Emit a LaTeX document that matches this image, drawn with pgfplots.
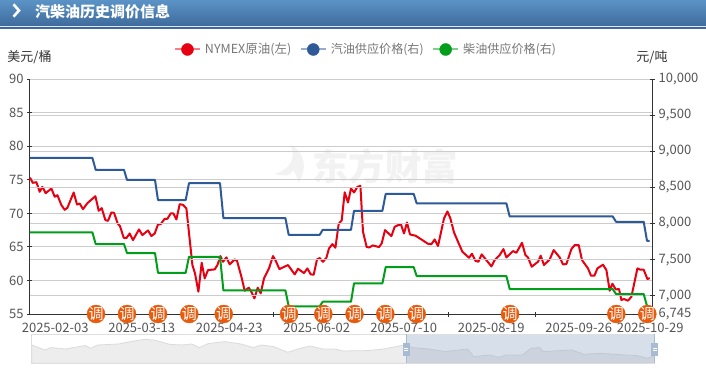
\documentclass[border=0pt]{standalone}
\usepackage{fontspec}
\setmainfont{Noto Sans CJK SC}
\usepackage{pgfplots}
\pgfplotsset{compat=1.18}
\definecolor{cred}{HTML}{E60012}
\definecolor{cblue}{HTML}{2F5A98}
\definecolor{cgreen}{HTML}{009E1A}
\definecolor{corange}{HTML}{E85A0C}
\definecolor{cgrid}{HTML}{CCCCCC}
\definecolor{caxis}{HTML}{333333}
\definecolor{ctick}{HTML}{555555}
\definecolor{hdtop}{HTML}{5B93C6}
\definecolor{hdbot}{HTML}{3E6A9B}
\definecolor{csel}{HTML}{8FA5C7}
\definecolor{chandle}{HTML}{A9BAD3}
\definecolor{cleg}{HTML}{777777}
\pgfplotsset{
  mainaxis/.style={
    at={(29.7pt,53pt)},anchor=south west,scale only axis,width=623pt,height=234.7pt,
    xmin=0,xmax=623,clip=false,
    /pgf/number format/assume math mode=true,
    tick style={caxis,line width=1pt},
    major tick length=5pt,
    axis line style={caxis,line width=1pt},
    ymajorgrids,grid style={cgrid,line width=1pt},
    ticklabel style={font=\fontsize{13}{13}\selectfont,text=ctick},
  },
  legimg/.style={legend image code/.code={
    \path[draw=#1!50!white,line width=2pt](0pt,0pt)--(25pt,0pt);
    \fill[#1](12.5pt,0pt)circle(6pt);}},
}
\begin{document}
\begin{tikzpicture}[x=1pt,y=1pt]
\useasboundingbox (0,0) rectangle (706,367);
\fill[white] (0,0) rectangle (706,367);
% header
\shade[top color=hdtop,bottom color=hdbot] (0,340.5) rectangle (706,367);
\fill[white!80!hdtop] (0,339.5) rectangle (706,340.5);
\fill[hdbot] (0,338) rectangle (706,339.5);
\draw[white,line width=2.6pt] (13.5,362.7)--(19,356.5)--(13.5,350.3);
\node[anchor=west,inner sep=0,text=white,font=\fontsize{15}{15}\selectfont\bfseries] at (35,355.7) {汽柴油历史调价信息};
% unit labels
\node[anchor=center,inner sep=0,text=caxis,font=\fontsize{13}{13}\selectfont] at (29.5,309.5) {美元/桶};
\node[anchor=center,inner sep=0,text=caxis,font=\fontsize{13}{13}\selectfont] at (652,309.5) {元/吨};
% watermark
\node[anchor=west,inner sep=0,text=black!5,font=\fontsize{36.5}{36.5}\selectfont\bfseries] at (312,201) {东方财富};
\fill[black!5] (298,184) .. controls (308,198) and (305,214) .. (291,222) .. controls (296,208) and (290,198) .. (275,193) .. controls (286,190) and (292,192) .. (293,197) .. controls (296,193) and (298,189) .. (298,184) -- cycle;
% left axis
\begin{axis}[mainaxis,
  ymin=55,ymax=90,ytick={55,60,...,90},
  axis x line=bottom,axis y line=left,
  axis line style={-},
  xtick={68,156,243.3,331,418.5,505.3,592},xticklabels={},
  extra x ticks={25.5,112,199.5,287,374,461.5,549,620.5},
  extra x tick labels={2025-02-03,2025-03-13,2025-04-23,2025-06-02,2025-07-10,2025-08-19,2025-09-26,2025-10-29},
  extra x tick style={major tick length=0pt,xticklabel style={yshift=-6pt}},
]
\addplot[cred,line width=2pt,line join=round,mark=none] coordinates {
(0.3,75.35)(3,74.56)(6.7,74.66)(10,73.22)(12.7,73.96)(16,73.02)(21.7,73.72)(25,72.48)(27.7,72.72)(31.7,71.23)(35,70.54)(37.7,70.84)(44,73.12)(47.3,71.33)(50,71.48)(53.3,70.64)(57.7,71.53)(65.7,72.57)(69,70.39)(72,70.79)(75.7,69.0)(78.3,68.9)(81.7,70.14)(84.3,70.09)(88,68.5)(90.3,68.11)(94,66.37)(96.7,66.32)(100,67.01)(103.3,66.02)(109.3,67.61)(112.7,66.77)(118.3,67.46)(121.7,66.62)(125,67.01)(128.3,68.35)(131,68.4)(135,69.2)(137.7,69.2)(141,69.99)(143.7,69.99)(146.7,69.1)(150,71.38)(153.3,71.28)(156.7,70.74)(162.7,62.3)(165.3,61.06)(168.7,58.32)(172,62.64)(175,60.31)(178.3,61.55)(185,61.65)(187.7,62.3)(190.7,63.64)(193.3,62.79)(196.7,63.44)(200,62.4)(205,63.14)(207.3,62.94)(211.7,60.56)(215,58.47)(219,58.92)(221.3,58.42)(224.7,57.33)(228,58.92)(231,58.08)(234.3,60.31)(239.3,61.8)(243.3,63.64)(246,62.94)(249.7,61.7)(258.3,62.3)(265,60.91)(268.3,61.75)(274.3,61.1)(277.7,61.8)(281,60.91)(284,60.86)(287.3,63.14)(290,63.34)(293.3,62.79)(296.7,63.39)(299.3,64.78)(302.7,65.42)(305.7,64.88)(309,68.45)(312,68.95)(315,73.15)(318.3,71.63)(321.3,73.72)(324.3,73.12)(327.7,73.96)(330.7,74.11)(333.3,67.26)(337,64.98)(339.7,64.93)(343,65.23)(349.3,64.98)(352,65.52)(355.3,67.51)(361.7,66.62)(365,68.01)(368.3,68.25)(371.3,68.35)(374.3,67.01)(377.3,68.65)(380.3,66.86)(386,66.67)(398.3,65.47)(401.7,65.42)(405,66.12)(408.3,65.13)(414.3,69.25)(417.7,70.29)(420.7,69.25)(424.3,67.16)(428.3,65.77)(432.7,64.28)(439.3,63.39)(442.3,63.98)(445.7,62.94)(448.7,62.79)(452,63.89)(461.7,62.1)(465,63.04)(470,63.79)(473.7,64.68)(476.7,63.44)(483.3,64.38)(486.7,64.14)(492.3,65.62)(495.7,63.79)(498.3,63.44)(502,62.05)(508.3,62.79)(511,63.69)(514.3,62.3)(520,63.14)(524,64.53)(530,63.44)(533.3,62.4)(536.7,62.45)(541.7,64.68)(545,65.28)(549,65.28)(552.3,63.04)(558.3,61.8)(561.3,60.71)(564.7,60.71)(567.7,61.8)(573.3,62.35)(576.7,61.55)(580,58.47)(582.7,59.52)(586,58.67)(589.3,58.72)(591.7,57.09)(594.3,57.23)(598.3,56.99)(601.7,57.58)(607.7,61.8)(610.7,61.6)(614,61.6)(617.7,60.21)(620,60.36)
};
\end{axis}
% right axis
\begin{axis}[mainaxis,
  ymin=6745,ymax=10000,
  ytick={7000,7500,8000,8500,9000,9500,10000},
  scaled y ticks=false,
  extra y ticks={6745},extra y tick style={grid=none},
  /pgf/number format/.cd,1000 sep={,},/pgfplots/.cd,
  axis y line=right,axis x line=none,
  axis line style={-},
  legend style={draw=none,fill=none,at={(0.2316,1.127)},anchor=west,inner sep=0pt,outer sep=0pt,
    legend columns=-1,font=\fontsize{12.1}{12.1}\selectfont,text=cleg,
    /tikz/every even column/.style={column sep=6.5pt},
    /tikz/every odd column/.style={column sep=2pt}},
  legend cell align=left,
]
\addlegendimage{legimg=cred}\addlegendentry{\fontsize{12.5}{12.5}\selectfont NYMEX原油(左)}
\addlegendimage{legimg=cblue}\addlegendentry{汽油供应价格(右)}
\addlegendimage{legimg=cgreen}\addlegendentry{柴油供应价格(右)}
\addplot[cblue,line width=2pt,line join=round,mark=none,forget plot] coordinates {
(0,8910)(62.7,8910)(66,8744)(94.3,8744)(97.3,8605)(125.3,8605)(128.3,8324)(156,8324)(159.3,8560)(190.3,8560)(193.7,8075)(255.7,8075)(259,7843)(290,7843)(293,7913)(321.3,7913)(324.3,8176)(352.7,8176)(356,8411)(384,8411)(387,8278)(476.7,8278)(480,8098)(583,8098)(586.3,8024)(614,8024)(617.3,7760)(620,7760)
};
\addplot[cgreen,line width=2pt,line join=round,mark=none,forget plot] coordinates {
(0,7877)(62.7,7877)(66,7715)(94.3,7715)(97.3,7590)(125.3,7590)(128.3,7317)(156,7317)(159.3,7539)(190.3,7539)(193.7,7073)(255.7,7073)(259,6852)(290,6852)(293,6915)(321.3,6915)(324.3,7170)(352.7,7170)(356,7396)(384,7396)(387,7271)(476.7,7271)(480,7091)(583,7091)(586.3,7022)(614,7022)(617.3,6855)(620,6855)
};
\addplot[only marks,mark=*,mark size=9pt,corange,forget plot,
  nodes near coords={调},
  every node near coord/.style={anchor=center,inner sep=0,text=white,font=\fontsize{15}{15}\selectfont}]
 coordinates {(66.3,6745)(97.3,6745)(128.3,6745)(159.6,6745)(194,6745)(259.3,6745)(293.6,6745)(324.8,6745)(355.6,6745)(387,6745)(480.3,6745)(586.6,6745)(617.6,6745)};
\end{axis}
% slider
\begin{axis}[at={(31.7pt,3.7pt)},anchor=south west,scale only axis,width=623pt,height=29.3pt,
  xmin=0,xmax=623,ymin=0,ymax=29.3,axis lines=none,clip=true]
\addplot[draw=black!14,line width=0.8pt,fill=black!7] coordinates {
(0,18.3)(7,15.7)(13,13.3)(19,15.7)(27,15)(33.5,14.3)(41.7,15.7)(53.9,17.7)(58.8,15)(66.2,18.3)(86.6,19.3)(98.9,21.7)(113.2,24)(123.4,23)(137.7,19)(149.9,18.3)(160.1,19.3)(167.5,15.7)(176.5,19.7)(192.8,21.7)(209.2,19.3)(221.4,15.7)(229.6,18.3)(241.8,16.7)(256.1,11)(266.3,14.3)(278.6,17.3)(290.9,14.3)(303.1,14.3)(311.3,12.3)(335.8,12.7)(352.1,14.3)(372.5,18.3)(380.7,15.7)(397.1,14.3)(413.4,11.7)(435.9,14.3)(442,6.7)(458.3,8.3)(466.5,6)(474.7,8.3)(491,8.3)(499.2,15)(508.2,15.7)(511.4,11.7)(540,13.3)(552.3,9)(568.6,10)(593.1,8.3)(605.4,7.7)(615.6,5)(623,7.7)
} \closedcycle;
\end{axis}
\fill[csel,fill opacity=.35] (406.3,3.7) rectangle (654.7,33);
\draw[black!13,line width=1pt] (31.7,3.7) rectangle (654.7,33);
\fill[chandle] (405.6,3.7) rectangle (407,33);
\fill[chandle] (654,3.7) rectangle (655.4,33);
\fill[chandle] (402.8,11) rectangle (409.8,24.5);
\fill[chandle] (651.2,11) rectangle (658.2,24.5);
\draw[white,line width=.6pt] (404.3,19)--(408.3,19) (404.3,16.5)--(408.3,16.5) (652.7,19)--(656.7,19) (652.7,16.5)--(656.7,16.5);
\end{tikzpicture}
\end{document}
